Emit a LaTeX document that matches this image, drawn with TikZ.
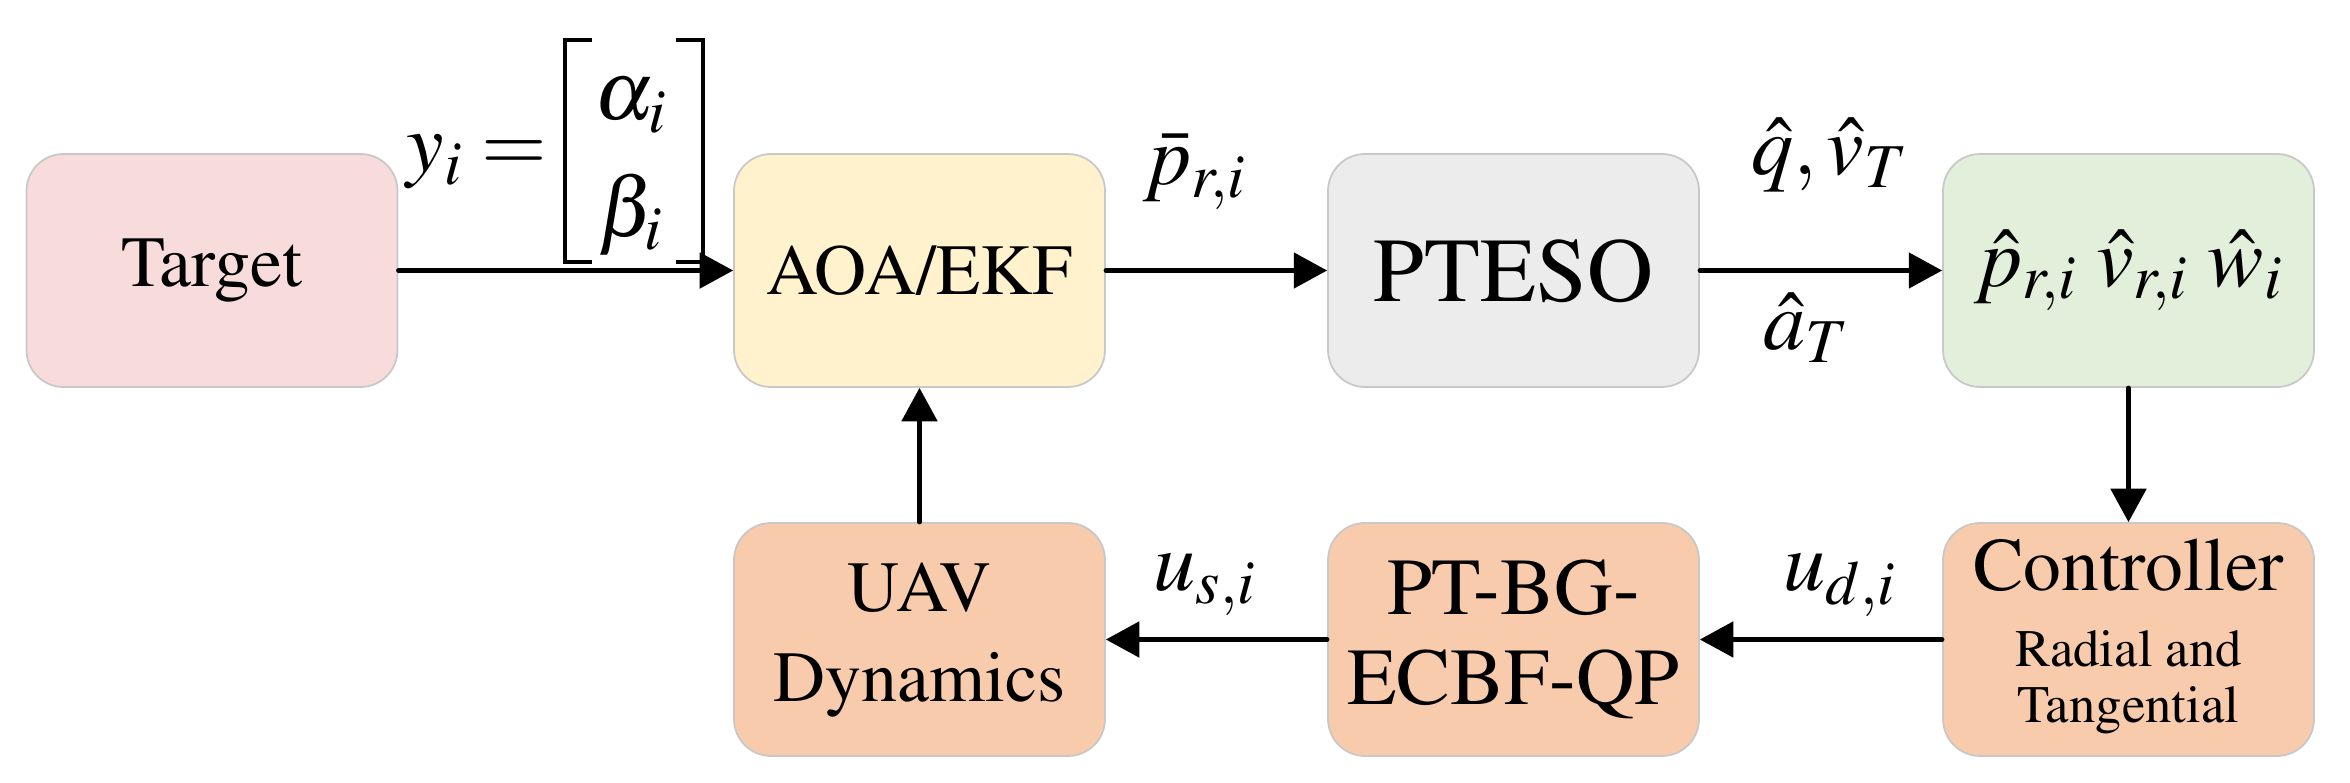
\documentclass[tikz,border=0pt]{standalone}
\usepackage[T1]{fontenc}
\usepackage{mathptmx}
\usetikzlibrary{arrows.meta}
\definecolor{tgtpink}{RGB}{248,220,219}
\definecolor{aoayel}{RGB}{255,242,204}
\definecolor{esogray}{RGB}{236,236,236}
\definecolor{estgrn}{RGB}{226,239,218}
\definecolor{ctlorg}{RGB}{248,203,173}
\definecolor{bordgray}{RGB}{200,200,200}
\tikzset{blk/.style={draw=bordgray,line width=0.5pt,rounded corners=0.37cm,minimum width=3.71cm,minimum height=2.33cm,align=center,inner sep=0pt,font=\fontsize{20.5}{25.6}\selectfont}}
\tikzset{lbl/.style={inner sep=0pt,font=\fontsize{24}{28}\selectfont}}

\begin{document}
\begin{tikzpicture}
			[line cap=round,line join=round,>={Triangle[length=9.5pt,width=10pt]},x=1cm,y=1cm]
			\useasboundingbox (0,0) rectangle (23.5,7.82);
			% top row
			\node[blk,fill=tgtpink] (tgt) at (2.12,5.115) {Target};
			\node[blk,fill=aoayel] (aoa) at (9.195,5.115) {AOA/EKF};
			\node[blk,fill=esogray,font=\fontsize{26}{30}\selectfont] (eso) at (15.135,5.115) {PTESO};
			\node[blk,fill=estgrn,font=\fontsize{24}{28}\selectfont] (est) at (21.285,5.115) {$\hat{p}_{r,i}\;\hat{v}_{r,i}\;\hat{w}_i$};
			% bottom row
			\node[blk,fill=ctlorg] (uav) at (9.195,1.425) {UAV\\Dynamics};
			\node[blk,fill=ctlorg,font=\fontsize{23}{25.6}\selectfont] (qp) at (15.135,1.425) {PT-BG-\\ECBF-QP};
			\node[blk,fill=ctlorg,font=\fontsize{21.5}{25}\selectfont] (ctrl) at (21.285,1.425) {Controller\\[5pt]\fontsize{15}{16}\selectfont\begin{tabular}{@{}c@{}}Radial and\\Tangential\end{tabular}};
			% signals
			\draw [line width=1.3pt,->] (tgt) -- (aoa);
			\draw [line width=1.3pt,->] (aoa) -- (eso);
			\draw [line width=1.3pt,->] (eso) -- (est);
			\draw [line width=1.3pt,->] (est) -- (ctrl);
			\draw [line width=1.3pt,->] (ctrl) -- (qp);
			\draw [line width=1.3pt,->] (qp) -- (uav);
			\draw [line width=1.3pt,->] (uav) -- (aoa);
			% measurement vector
			\node[lbl,anchor=base] (yeq) at (4.77,6.10) {$y_i=$};
			\node[lbl,anchor=base] (alp) at (6.31,6.62) {$\alpha_i$};
			\node[lbl,anchor=base] (bet) at (6.31,5.45) {$\beta_i$};
			\draw [line width=0.9pt,line cap=butt,line join=miter] (5.92,7.42) -- (5.65,7.42) -- (5.65,5.20) -- (5.92,5.20);
			\draw [line width=0.9pt,line cap=butt,line join=miter] (6.76,7.42) -- (7.03,7.42) -- (7.03,5.20) -- (6.76,5.20);
			\node[lbl] (pbar) at (11.95,6.10) {$\bar{p}_{r,i}$};
			\node[lbl] (qv) at (18.30,6.27) {$\hat{q},\hat{v}_T$};
			\node[lbl] (aT) at (18.07,4.54) {$\hat{a}_T$};
			\node[lbl] (us) at (12.05,1.97) {$u_{s,i}$};
			\node[lbl] (ud) at (18.40,1.97) {$u_{d,i}$};
		\end{tikzpicture}
\end{document}
